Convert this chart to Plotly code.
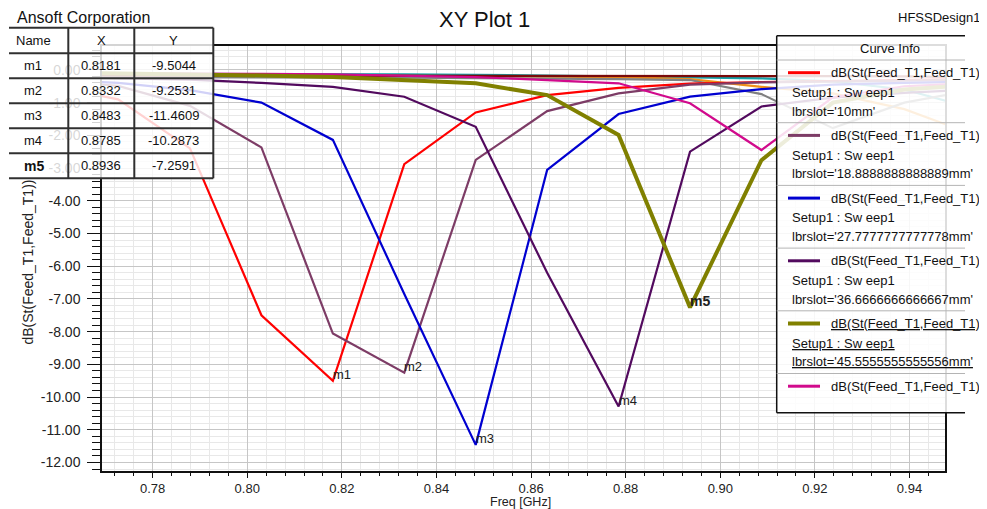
import plotly.graph_objects as go

# ---------------- data ----------------
freq = [0.7576, 0.7727, 0.7879, 0.8030, 0.8181, 0.8332, 0.8483,
        0.8634, 0.8785, 0.8936, 0.9087, 0.9238, 0.9389, 0.9540]

lbrslot = ["10mm", "18.8888888888889mm", "27.7777777777778mm",
           "36.6666666666667mm", "45.5555555555556mm", "54.4444444444444mm",
           "63.3333333333333mm", "72.2222222222222mm", "81.1111111111111mm", "90mm"]

db_10 = [-0.45, -0.90, -2.40, -7.50, -9.5044, -2.88, -1.30, -0.77, -0.55, -0.42, -0.37, -0.33, -0.30, -0.28]
db_18 = [-0.30, -0.49, -1.10, -2.37, -8.06, -9.2531, -2.75, -1.26, -0.72, -0.45, -0.38, -0.35, -0.32, -0.30]
db_27 = [-0.28, -0.40, -0.62, -1.00, -2.14, -6.85, -11.4609, -3.06, -1.35, -0.82, -0.59, -0.45, -0.40, -0.35]
db_36 = [-0.22, -0.25, -0.30, -0.40, -0.52, -0.82, -1.74, -6.20, -10.2873, -2.50, -1.12, -0.85, -0.70, -0.60]
db_45 = [-0.08, -0.10, -0.13, -0.17, -0.22, -0.30, -0.41, -0.77, -1.99, -7.2591, -2.76, -1.00, -0.60, -0.45]
db_54 = [-0.10, -0.10, -0.11, -0.12, -0.14, -0.17, -0.22, -0.31, -0.41, -1.02, -2.45, -0.84, -0.50, -0.40]
db_63 = [-0.12, -0.12, -0.12, -0.13, -0.13, -0.14, -0.15, -0.17, -0.20, -0.23, -0.26, -0.35, -0.60, -1.20]
db_72 = [-0.15, -0.15, -0.16, -0.16, -0.17, -0.18, -0.19, -0.20, -0.22, -0.28, -0.52, -0.72, -1.20, -2.00]
db_81 = [-0.22, -0.22, -0.22, -0.23, -0.23, -0.24, -0.25, -0.26, -0.28, -0.31, -0.74, -1.78, -1.00, -0.60]
db_90 = [-0.17, -0.17, -0.17, -0.17, -0.17, -0.17, -0.17, -0.17, -0.17, -0.17, -0.18, -0.19, -0.20, -0.22]

series = [db_10, db_18, db_27, db_36, db_45, db_54, db_63, db_72, db_81, db_90]
colors = ["#ff0000", "#7d3c66", "#0000d0", "#520a5e", "#808000", "#d10a8c",
          "#16a2a8", "#f0901a", "#808080", "#7a0a0a"]
widths = [2.2, 2.2, 2.2, 2.2, 4, 2.2, 2.2, 2.2, 2.2, 2.2]

marker_names = ["m1", "m2", "m3", "m4", "m5"]
marker_x = [0.8181, 0.8332, 0.8483, 0.8785, 0.8936]
marker_y = [-9.5044, -9.2531, -11.4609, -10.2873, -7.2591]

x_ticks = [0.78, 0.80, 0.82, 0.84, 0.86, 0.88, 0.90, 0.92, 0.94]
x_ticktext = ["0.78", "0.80", "0.82", "0.84", "0.86", "0.88", "0.90", "0.92", "0.94"]
y_ticks = [0, -1, -2, -3, -4, -5, -6, -7, -8, -9, -10, -11, -12]
y_ticktext = ["0.00", "-1.00", "-2.00", "-3.00", "-4.00", "-5.00", "-6.00",
              "-7.00", "-8.00", "-9.00", "-10.00", "-11.00", "-12.00"]

trace_label = "dB(St(Feed_T1,Feed_T1))"
setup_label = "Setup1 : Sw eep1"

# ---------------- layout geometry ----------------
# the page body adds an 8 px margin, so the figure is 8 px smaller
OFF = 8
W, H = 987 - OFF, 509 - OFF
ML, MR, MT, MB = 102 - OFF, 42, 46 - OFF, 38
PW = W - ML - MR
PH = H - MT - MB
FONT = "Liberation Sans, Arial, sans-serif"


def px(x):   # screen pixel x -> paper
    return (x - OFF - ML) / PW


def py(y):   # screen pixel y -> paper
    return (H - MB - (y - OFF)) / PH


fig = go.Figure()

order = [6, 7, 8, 9, 0, 1, 2, 3, 5, 4]
for i in order:
    fig.add_trace(go.Scatter(
        x=freq, y=series[i], mode="lines",
        line=dict(color=colors[i], width=widths[i]),
        name="lbrslot='%s'" % lbrslot[i], showlegend=False,
        hoverinfo="x+y"))

shapes = []
annotations = []

for n, mx, my in zip(marker_names, marker_x, marker_y):
    annotations.append(dict(
        x=mx, y=my, xref="x", yref="y",
        text=("<b>%s</b>" % n) if n == "m5" else n,
        showarrow=False, xanchor="left", yanchor="middle",
        xshift=-2, yshift=6,
        font=dict(family=FONT, size=14 if n == "m5" else 13, color="#202020")))

# ---------------- marker table (top-left) ----------------
tx0, tx1 = 9, 213.3
col_lines = [68.3, 134.3]
row_lines = [27.7, 53.3, 78.3, 103.3, 128.3, 153.3, 178.3]
shapes.append(dict(type="rect", xref="paper", yref="paper",
                   x0=px(tx0), x1=px(tx1), y0=py(row_lines[-1]), y1=py(row_lines[0]),
                   fillcolor="rgba(255,255,255,0.82)", line=dict(width=0), layer="above"))
for ry in row_lines:
    shapes.append(dict(type="line", xref="paper", yref="paper",
                       x0=px(tx0), x1=px(tx1), y0=py(ry), y1=py(ry),
                       line=dict(color="#303030", width=2), layer="above"))
for cx in col_lines + [tx1]:
    shapes.append(dict(type="line", xref="paper", yref="paper",
                       x0=px(cx), x1=px(cx), y0=py(row_lines[0]), y1=py(row_lines[-1]),
                       line=dict(color="#303030", width=2), layer="above"))


def tab_text(x, y, t, anchor="center", size=13, bold=False):
    annotations.append(dict(x=px(x), y=py(y), xref="paper", yref="paper",
                            text=("<b>%s</b>" % t) if bold else t,
                            showarrow=False, xanchor=anchor, yanchor="middle",
                            font=dict(family=FONT, size=size, color="#111111")))


hdr_y = (row_lines[0] + row_lines[1]) / 2
tab_text(14, hdr_y, "Name", "left")
tab_text(101.3, hdr_y, "X")
tab_text(173.8, hdr_y, "Y")
for k, (n, mx, my) in enumerate(zip(marker_names, marker_x, marker_y)):
    cy = (row_lines[k + 1] + row_lines[k + 2]) / 2
    tab_text(22, cy, n, "left", size=14 if n == "m5" else 13, bold=(n == "m5"))
    tab_text(101.3, cy, "%.4f" % mx)
    tab_text(173.8, cy, "%.4f" % my)

# ---------------- titles ----------------
annotations.append(dict(x=px(15), y=py(18), xref="paper", yref="paper", text="Ansoft Corporation",
                        showarrow=False, xanchor="left", yanchor="middle",
                        font=dict(family=FONT, size=16, color="#111111")))
annotations.append(dict(x=px(484), y=py(20), xref="paper", yref="paper", text="XY Plot 1",
                        showarrow=False, xanchor="center", yanchor="middle",
                        font=dict(family=FONT, size=22, color="#111111")))
annotations.append(dict(x=px(982), y=py(18), xref="paper", yref="paper", text="HFSSDesign1",
                        showarrow=False, xanchor="right", yanchor="middle",
                        font=dict(family=FONT, size=13, color="#111111")))
annotations.append(dict(x=px(520), y=py(509), xref="paper", yref="paper", text="Freq [GHz]",
                        showarrow=False, xanchor="center", yanchor="bottom", yshift=-2,
                        font=dict(family=FONT, size=12.5, color="#222222")))
annotations.append(dict(x=px(27.5), y=py(262), xref="paper", yref="paper", text=trace_label,
                        showarrow=False, xanchor="center", yanchor="middle", textangle=-90,
                        font=dict(family=FONT, size=14, color="#222222")))

# ---------------- curve info box ----------------
lx0, lx1, ly0, ly1 = 776.7, 965, 35.7, 412.7
shapes.append(dict(type="rect", xref="paper", yref="paper",
                   x0=px(lx0), x1=px(lx1 + 30), y0=py(ly1), y1=py(ly0),
                   fillcolor="rgba(255,255,255,0.86)", line=dict(width=0), layer="above"))
for (a, b, c, d) in [(lx0, ly0, lx1, ly0), (lx0, ly1, lx1, ly1), (lx0, ly0, lx0, ly1)]:
    shapes.append(dict(type="line", xref="paper", yref="paper",
                       x0=px(a), x1=px(c), y0=py(b), y1=py(d),
                       line=dict(color="#111111", width=1.5), layer="above"))
annotations.append(dict(x=px(890), y=py(48), xref="paper", yref="paper", text="Curve Info",
                        showarrow=False, xanchor="center", yanchor="middle",
                        font=dict(family=FONT, size=13, color="#111111")))
shapes.append(dict(type="line", xref="paper", yref="paper",
                   x0=px(lx0), x1=px(lx1), y0=py(60), y1=py(60),
                   line=dict(color="#b4b4b4", width=1), layer="above"))

step = 62.7
for k in range(6):
    yl = 72.7 + k * step
    shapes.append(dict(type="line", xref="paper", yref="paper",
                       x0=px(788), x1=px(820), y0=py(yl), y1=py(yl),
                       line=dict(color=colors[k], width=3 if widths[k] < 4 else 4), layer="above"))
    f = dict(family=FONT, size=13, color="#111111")
    if k == 4:
        f["lineposition"] = "under"
    annotations.append(dict(x=px(829.3), y=py(yl), xref="paper", yref="paper", text=trace_label,
                            showarrow=False, xanchor="left", yanchor="middle", font=f))
    if k < 5:
        annotations.append(dict(x=px(790), y=py(yl + 19.6), xref="paper", yref="paper",
                                text=setup_label, showarrow=False, xanchor="left",
                                yanchor="middle", font=f))
        annotations.append(dict(x=px(790), y=py(yl + 38.3), xref="paper", yref="paper",
                                text="lbrslot='%s'" % lbrslot[k], showarrow=False,
                                xanchor="left", yanchor="middle", font=f))
        shapes.append(dict(type="line", xref="paper", yref="paper",
                           x0=px(lx0), x1=px(lx1), y0=py(yl + 50), y1=py(yl + 50),
                           line=dict(color="#b4b4b4", width=1), layer="above"))

# ---------------- axes ----------------
axis_common = dict(showline=True, linecolor="#111111", linewidth=1.5, mirror=True,
                   ticks="outside", tickcolor="#111111", showgrid=True,
                   gridcolor="#c6c6c6", gridwidth=1, zeroline=False)

fig.update_layout(
    width=W, height=H,
    margin=dict(l=ML, r=MR, t=MT, b=MB, pad=0),
    paper_bgcolor="white", plot_bgcolor="white",
    showlegend=False,
    xaxis=dict(range=[0.7693, 0.9475], tickmode="array", tickvals=x_ticks, ticktext=x_ticktext,
               ticklen=5, tickfont=dict(family=FONT, size=13, color="#222222"),
               minor=dict(dtick=0.004, tick0=0.78, ticks="outside", ticklen=3,
                          tickcolor="#111111", showgrid=True, gridcolor="#e8e8e8"),
               **axis_common),
    yaxis=dict(range=[-12.26, 0.73], tickmode="array", tickvals=y_ticks, ticktext=y_ticktext,
               ticklen=13, ticklabelstandoff=4, tickfont=dict(family=FONT, size=14, color="#222222"),
               minor=dict(dtick=0.2, tick0=0, ticks="outside", ticklen=8,
                          tickcolor="#111111", showgrid=True, gridcolor="#e8e8e8"),
               **axis_common),
    shapes=shapes,
    annotations=annotations,
)

fig.write_html("out.html")
